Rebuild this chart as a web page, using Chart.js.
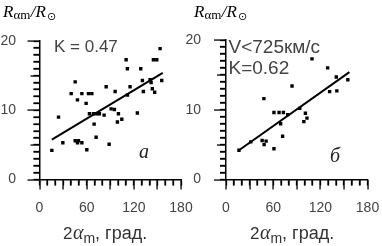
<!DOCTYPE html>
<html><head><meta charset="utf-8">
<script src="https://cdn.jsdelivr.net/npm/chart.js@4/dist/chart.umd.min.js"></script>
<style>
html,body{margin:0;padding:0;background:#fff;width:382px;height:246px;overflow:hidden}
canvas{position:absolute;top:0}
#ca{left:0}
#cb{left:180px}
</style></head><body>
<canvas id="ca" width="200" height="246"></canvas>
<canvas id="cb" width="202" height="246"></canvas>
<script>
// ---- data ----
// panel a (all events)
const angleA  = [15.7,24.2,29.7,40.3,45.4,45.4,49.6,48.3,53.9,48.3,53.9,59.3,60.2,62.3,66.6,63.5,68.6,72.9,76.2,69.5,72.0,82.2,84.8,88.6,91.1,95.3,96.2,100.4,99.1,104.7,110.2,111.8,111.9,115.2,124.5,128.8,130.9,132.1,140.7,142.0,144.9,149.2,143.5,146.5,153.4,155.5];
const radiusA = [4.2,9.0,5.3,12.4,14.1,5.6,5.6,5.3,5.3,11.5,12.4,11.0,4.3,12.4,12.4,9.5,9.5,9.5,9.5,8.0,6.1,9.3,13.4,5.1,10.2,10.1,12.7,9.5,8.3,8.7,17.3,16.0,12.2,13.4,9.6,16.0,14.3,12.7,14.4,14.0,17.3,17.3,13.1,12.6,18.9,14.3];
const fitAngleA  = [15.7,156.8];
const fitRadiusA = [5.75,15.4];
// panel б (V < 725 km/s)
const angleB  = [16.5,31.5,46.0,48.5,51.0,61.0,48.2,61.0,67.5,73.0,69.5,72.0,78.5,84.0,93.8,101.0,103.0,99.0,109.4,129.3,131.8,140.3,141.0,155.0];
const radiusB = [4.2,5.4,5.6,5.0,5.5,4.4,11.6,9.6,9.6,9.6,8.0,6.2,9.3,13.4,10.2,9.5,8.8,8.3,17.3,16.0,12.6,14.7,12.7,14.3];
const fitAngleB  = [16.5,157.0];
const fitRadiusB = [4.2,15.4];
// axes
const xTickLabels = [0,60,120,180];
const yTickLabels = [0,10,20];
const xMinorStep = 10, xMidStep = 30;
const yMinorStep = 1, yMidStep = 5;
const textA = {k:['K = 0.47'], letter:'a'};
const textB = {k:['V<725км/с','K=0.62'], letter:'б'};

function pts(xs,ys){return xs.map((x,i)=>({x:x,y:ys[i]}));}
function stepTicks(min,max,step){const t=[];for(let v=min;v<=max+1e-9;v+=step)t.push({value:v});return t;}

function drawRTitle(ctx,x,base){
  ctx.fillStyle='#000';ctx.textAlign='left';ctx.textBaseline='alphabetic';
  ctx.font='italic 17px "Liberation Serif"';ctx.fillText('R',x,base);x+=ctx.measureText('R').width;
  ctx.font='13px "Liberation Serif"';ctx.fillText('αm',x,base+1.5);x+=ctx.measureText('αm').width;
  ctx.font='italic 17px "Liberation Serif"';ctx.fillText('/R',x+0.5,base);x+=ctx.measureText('/R').width+0.5;
  ctx.font='11px "DejaVu Sans"';ctx.fillText('⊙',x+1,base+3);
}
function drawXTitle(ctx,x,base){
  ctx.fillStyle='#333';ctx.textAlign='left';ctx.textBaseline='alphabetic';
  ctx.font='17px "Liberation Sans"';ctx.fillText('2',x,base);x+=ctx.measureText('2').width+0.5;
  ctx.font='italic 20px "Liberation Serif"';ctx.fillText('α',x,base);x+=ctx.measureText('α').width;
  ctx.font='14px "Liberation Sans"';ctx.fillText('m',x,base+4);x+=ctx.measureText('m').width;
  ctx.font='18px "Liberation Sans"';ctx.fillText(', град.',x,base);
}

function decoPlugin(id,L){
  return {id:'deco'+id, afterDraw(chart){
    const ctx=chart.ctx;
    ctx.save();
    try{
      drawRTitle(ctx,L.titleX,17);
      ctx.fillStyle='#444';ctx.textAlign='left';ctx.textBaseline='alphabetic';
      ctx.font=L.kFont;
      L.text.k.forEach((t,i)=>ctx.fillText(t,L.kX,L.kBase[i]));
      ctx.fillStyle='#222';
      ctx.font='italic 20px "Liberation Serif"';
      ctx.fillText(L.text.letter,L.letX,L.letBase);
      drawXTitle(ctx,L.xtX,238.5);
    }catch(e){}
    ctx.fillStyle='#000';
    try{
      const sx=chart.scales.x, sy=chart.scales.y;
      const b=chart.chartArea.bottom, l=chart.chartArea.left;
      for(let v=0;v<=180;v+=xMinorStep){
        const p=sx.getPixelForValue(v);
        const len=(v%xMidStep===0)?10:6;
        ctx.fillRect(Math.round(p)-0.6,b,1.3,len);
      }
      for(let v=0;v<=20;v+=yMinorStep){
        const p=sy.getPixelForValue(v);
        const len=(v%10===0)?12:((v%yMidStep===0)?9:6);
        ctx.fillRect(l-len,Math.round(p)-0.6,len,1.3);
      }
    }catch(e){}
    ctx.restore();
  }};
}

function make(id,xs,ys,fx,fy,L){
  return new Chart(document.getElementById(id),{
    type:'scatter',
    data:{datasets:[
      {data:pts(xs,ys),pointStyle:'rect',pointRadius:2.4,pointHoverRadius:2.4,backgroundColor:'#000',borderWidth:0,showLine:false},
      {data:pts(fx,fy),showLine:true,borderColor:'#000',borderWidth:2,pointRadius:0,fill:false}
    ]},
    options:{
      responsive:false,animation:false,devicePixelRatio:1,events:[],
      layout:{padding:{left:0,right:L.padR,top:L.top,bottom:0}},
      plugins:{legend:{display:false},tooltip:{enabled:false}},
      scales:{
        x:{type:'linear',min:0,max:180,
          afterBuildTicks:s=>{s.ticks=stepTicks(0,180,xMinorStep);},
          afterFit:s=>{s.height=L.xH;s.paddingLeft=0;s.paddingRight=0;},
          grid:{display:true,drawOnChartArea:false,drawTicks:true,tickLength:6,color:'rgba(0,0,0,0)',tickColor:'#000',tickWidth:1.3},
          border:{display:true,color:'#000',width:1.5},
          ticks:{padding:14.5,autoSkip:false,maxRotation:0,color:'#444',font:{family:'Liberation Sans',size:14},
            callback:v=>xTickLabels.includes(v)?String(v):''}},
        y:{type:'linear',min:0,max:20,
          afterBuildTicks:s=>{s.ticks=stepTicks(0,20,yMinorStep);},
          afterFit:s=>{s.width=L.yW;s.paddingTop=0;s.paddingBottom=0;},
          grid:{display:true,drawOnChartArea:false,drawTicks:true,tickLength:6,color:'rgba(0,0,0,0)',tickColor:'#000',tickWidth:1.3},
          border:{display:true,color:'#000',width:1.5},
          ticks:{padding:L.yPad,autoSkip:false,color:'#444',font:{family:'Liberation Sans',size:14},
            callback:v=>yTickLabels.includes(v)?String(v):''}}
      }
    },
    plugins:[decoPlugin(id,L)]
  });
}

make('ca',angleA,radiusA,fitAngleA,fitRadiusA,{
  padR:19,top:41,xH:66.5,yW:39.5,yPad:17.5,titleX:3,
  text:textA,kFont:'17px "Liberation Sans"',kX:54,kBase:[51.6],letX:139,letBase:158,xtX:63});
make('cb',angleB,radiusB,fitAngleB,fitRadiusB,{
  padR:14.5,top:40,xH:66.5,yW:46,yPad:19,titleX:14,
  text:textB,kFont:'19px "Liberation Sans"',kX:48.5,kBase:[52.5,74],letX:150,letBase:161.5,xtX:70});
</script>
</body></html>
